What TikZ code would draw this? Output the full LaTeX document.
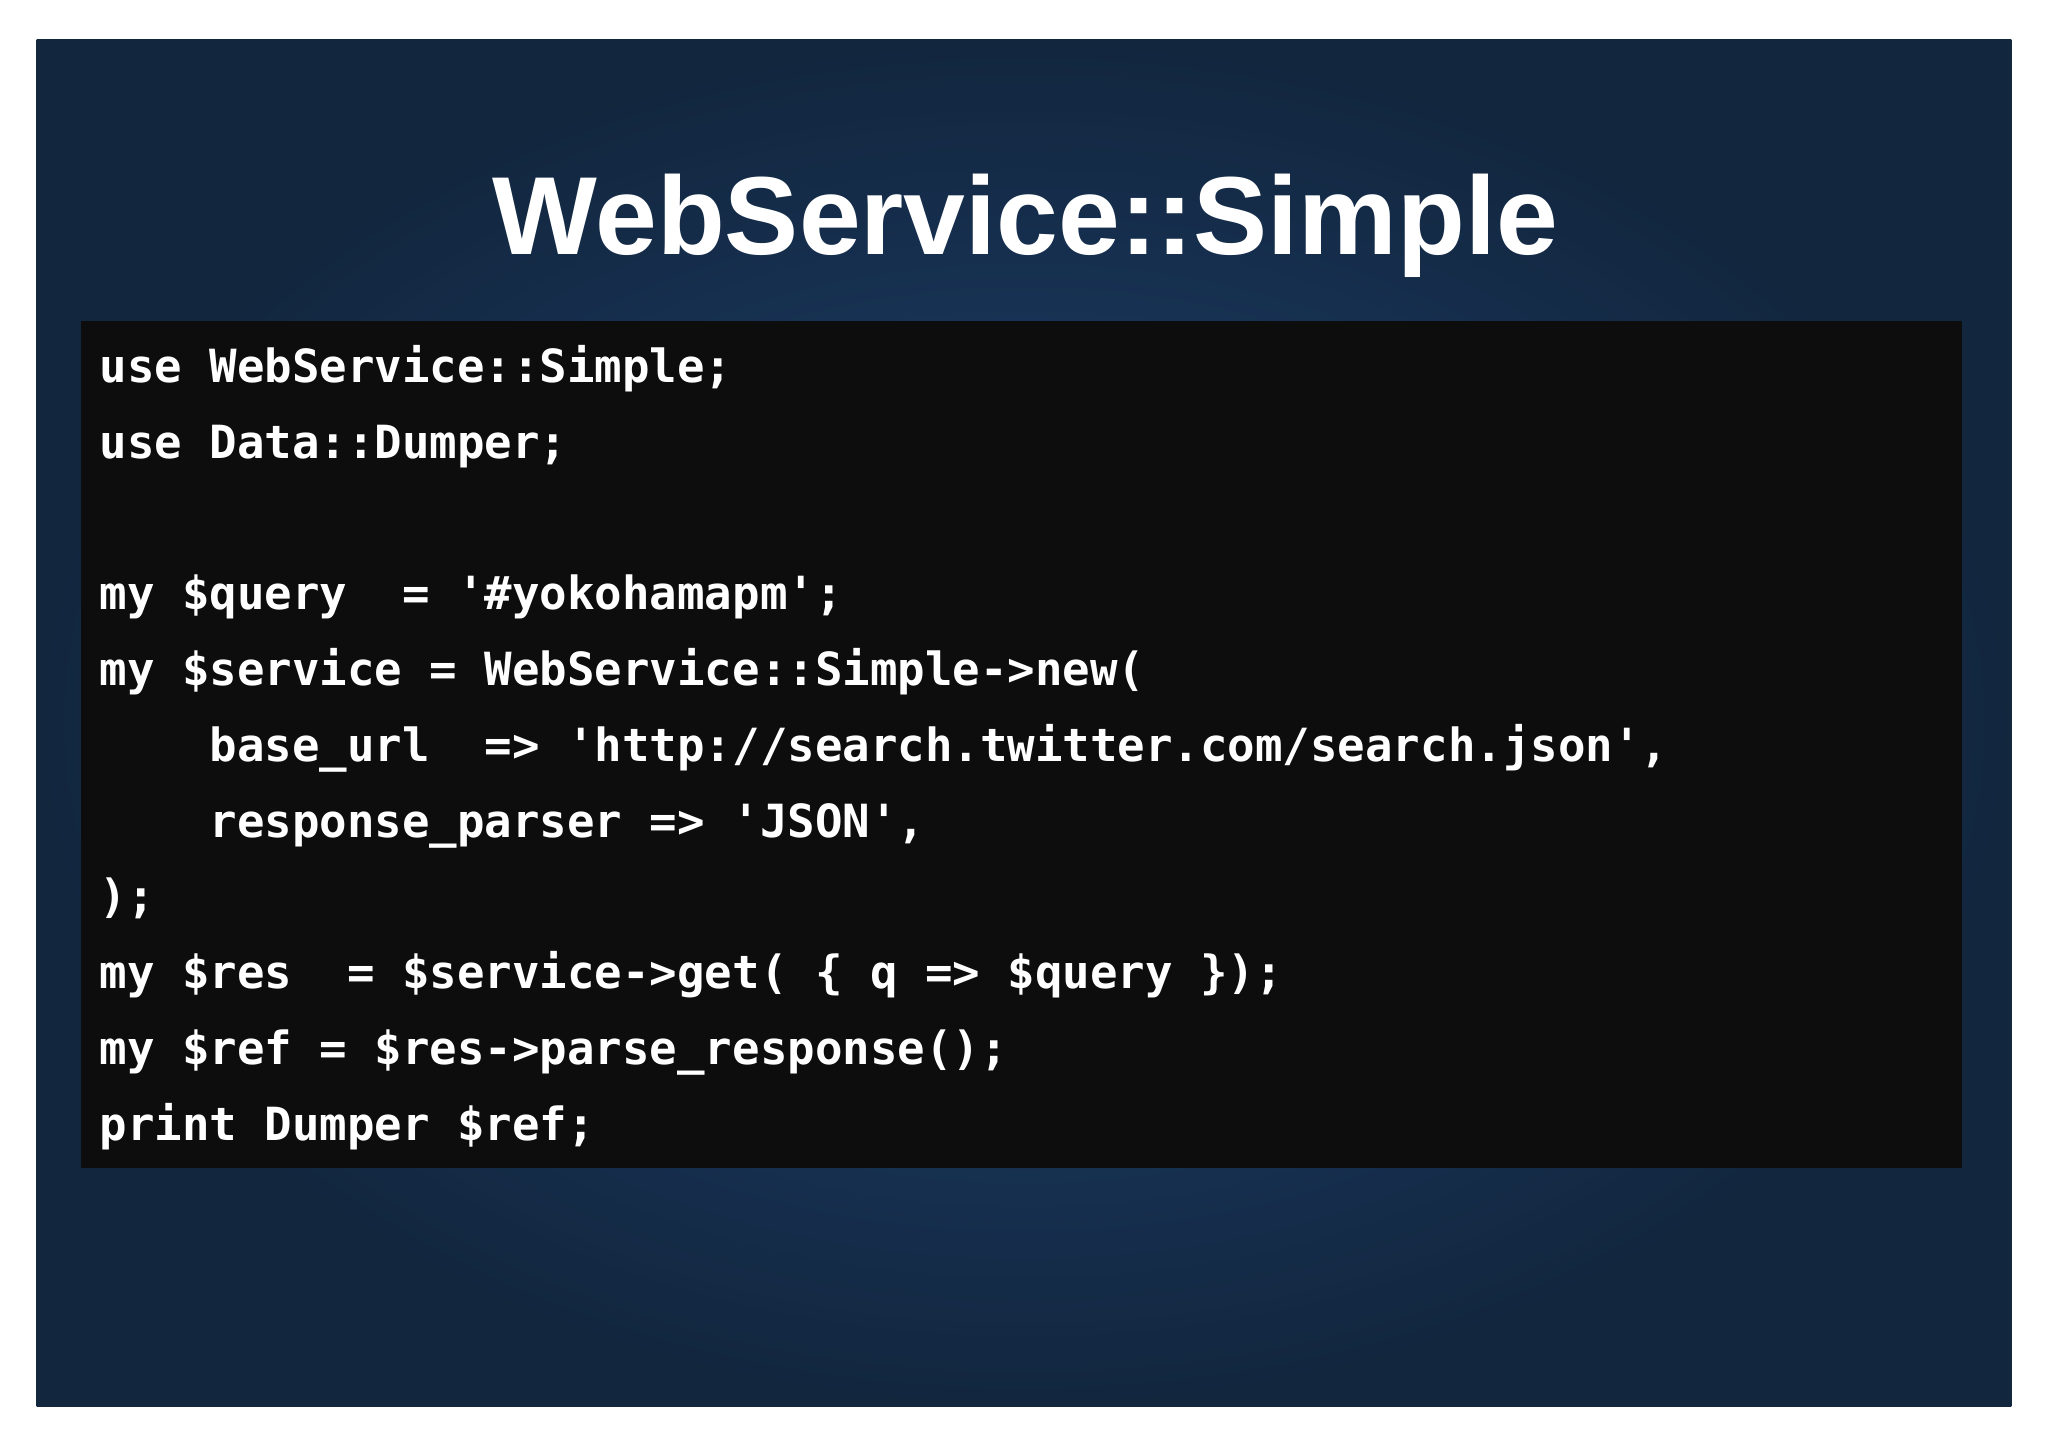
\documentclass[tikz,border=0pt]{standalone}
\usepackage{fontspec}
\setmainfont{Liberation Sans}
\setmonofont{DejaVu Sans Mono}
\begin{document}
\begin{tikzpicture}[x=1pt,y=-1pt,
  codeline/.style={anchor=base west,inner sep=0pt,text=white,font=\ttfamily\bfseries\fontsize{35}{35}\selectfont}]
\useasboundingbox (0,0) rectangle (1568,1108);
\fill[white] (0,0) rectangle (1568,1108);
\definecolor{bgin}{HTML}{1F4373}
\definecolor{bgout}{HTML}{12263E}
\definecolor{codebg}{HTML}{0D0D0D}
\shade[inner color=bgin,outer color=bgout] (28,30) rectangle (1540,1077);
\node[anchor=base,inner sep=0pt,text=white,font=\bfseries\fontsize{85}{85}\selectfont] (title) at (785,195) {WebService::Simple};
\fill[codebg] (62,246) rectangle (1502,894);
\node[codeline] (l1) at (76,293) {use WebService::Simple;};
\node[codeline] (l2) at (76,351) {use Data::Dumper;};
\node[codeline] (l4) at (76,467) {my \$query~~=~'\#yokohamapm';};
\node[codeline] (l5) at (76,525) {my \$service~=~WebService::Simple->new(};
\node[codeline] (l6) at (76,583) {~~~~base\_url~~=>~'http://search.twitter.com/search.json',};
\node[codeline] (l7) at (76,641) {~~~~response\_parser~=>~'JSON',};
\node[codeline] (l8) at (76,699) {);};
\node[codeline] (l9) at (76,757) {my \$res~~=~\$service->get(~\{~q~=>~\$query~\});};
\node[codeline] (l10) at (76,815) {my \$ref~=~\$res->parse\_response();};
\node[codeline] (l11) at (76,873) {print Dumper \$ref;};
\end{tikzpicture}
\end{document}
